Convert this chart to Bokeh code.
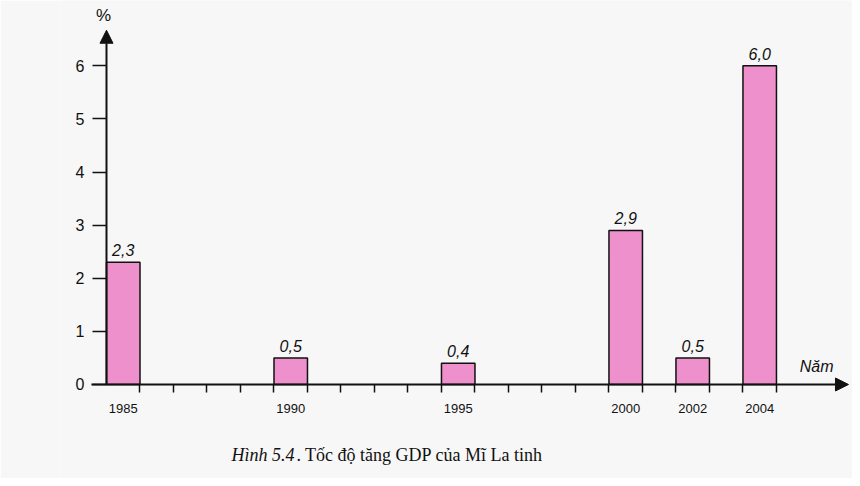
from bokeh.plotting import figure
from bokeh.models import (ColumnDataSource, FixedTicker, Arrow, NormalHead, Label,
                          Range1d, CustomJSTickFormatter)
from bokeh.core.properties import value
from bokeh.embed import file_html
from bokeh.resources import INLINE

# ---- data ----
years = [1985, 1990, 1995, 2000, 2002, 2004]
growth = [2.3, 0.5, 0.4, 2.9, 0.5, 6.0]
value_labels = ["2,3", "0,5", "0,4", "2,9", "0,5", "6,0"]
y_ticks = [0, 1, 2, 3, 4, 5, 6]
all_years = list(range(1985, 2005))
x_title = "Năm"
y_title = "%"
caption_italic = "Hình 5.4"
caption_rest = ". Tốc độ tăng GDP của Mĩ La tinh"

BG = "#f7f7f7"
BAR = "#ee90cc"
INK = "#111111"
SANS = "Liberation Sans"

src = ColumnDataSource(dict(x=years, top=growth, lab=value_labels))

p = figure(width=852, height=478, output_backend="svg", toolbar_location=None,
           x_range=Range1d(1983.127, 2006.77), y_range=Range1d(-1.77, 7.23),
           min_border_left=60, min_border_right=0, min_border_top=0, min_border_bottom=0,
           background_fill_color=BG, border_fill_color=BG, outline_line_color=None)
p.grid.visible = False

p.vbar(x="x", top="top", width=1.0, bottom=0, source=src,
       fill_color=BAR, line_color=INK, line_width=1.5)

p.text(x="x", y="top", text="lab", source=src, text_align="center",
       text_baseline="bottom", y_offset=-6, text_font=value(SANS),
       text_font_size="16px", text_font_style="italic", text_color=INK)

# y axis sitting at the first year boundary
ya = p.yaxis[0]
ya.fixed_location = 1984.5
ya.ticker = FixedTicker(ticks=y_ticks)
ya.axis_line_color = None
ya.major_tick_in = 0
ya.major_tick_out = 14
ya.major_tick_line_width = 1.5
ya.major_tick_line_color = INK
ya.minor_tick_line_color = None
ya.major_label_standoff = 8
ya.major_label_text_font = SANS
ya.major_label_text_font_size = "16px"
ya.major_label_text_color = INK

# x axis sitting at y = 0: labels at bar centres, small ticks at year boundaries
xa = p.xaxis[0]
xa.fixed_location = 0
xa.ticker = FixedTicker(ticks=years, minor_ticks=[y + 0.5 for y in all_years])
xa.formatter = CustomJSTickFormatter(code="return String(Math.round(tick));")
xa.axis_line_color = None
xa.major_tick_in = 0
xa.major_tick_out = 0
xa.minor_tick_in = 0
xa.minor_tick_out = 8
xa.minor_tick_line_width = 1.5
xa.minor_tick_line_color = INK
xa.major_label_standoff = 12
xa.major_label_text_font = SANS
xa.major_label_text_font_size = "13px"
xa.major_label_text_color = INK

# axis lines with arrow heads
p.add_layout(Arrow(x_start=1984.05, y_start=0, x_end=2006.65, y_end=0,
                   line_color=INK, line_width=2,
                   end=NormalHead(size=13, fill_color=INK, line_color=INK)))
p.add_layout(Arrow(x_start=1984.5, y_start=0, x_end=1984.5, y_end=6.67,
                   line_color=INK, line_width=2,
                   end=NormalHead(size=13, fill_color=INK, line_color=INK)))

p.add_layout(Label(x=2005.7, y=0.17, text=x_title, text_align="center",
                   text_baseline="bottom", text_font=SANS, text_font_size="16px",
                   text_font_style="italic", text_color=INK))
# "%" unit label above the y axis
p.add_layout(Label(x=1984.41, y=6.95, text=y_title, text_align="center",
                   text_baseline="middle", text_font=SANS,
                   text_font_size="17px", text_color=INK))

# caption
p.add_layout(Label(x=1988.23, y=-1.33, text=caption_italic, text_align="left",
                   text_baseline="middle", text_font="Liberation Serif",
                   text_font_size="18px", text_font_style="italic", text_color=INK))
p.add_layout(Label(x=1990.17, y=-1.33, text=caption_rest, text_align="left",
                   text_baseline="middle", text_font="Liberation Serif",
                   text_font_size="18px", text_color=INK))

open("out.html", "w").write(file_html(p, INLINE))
